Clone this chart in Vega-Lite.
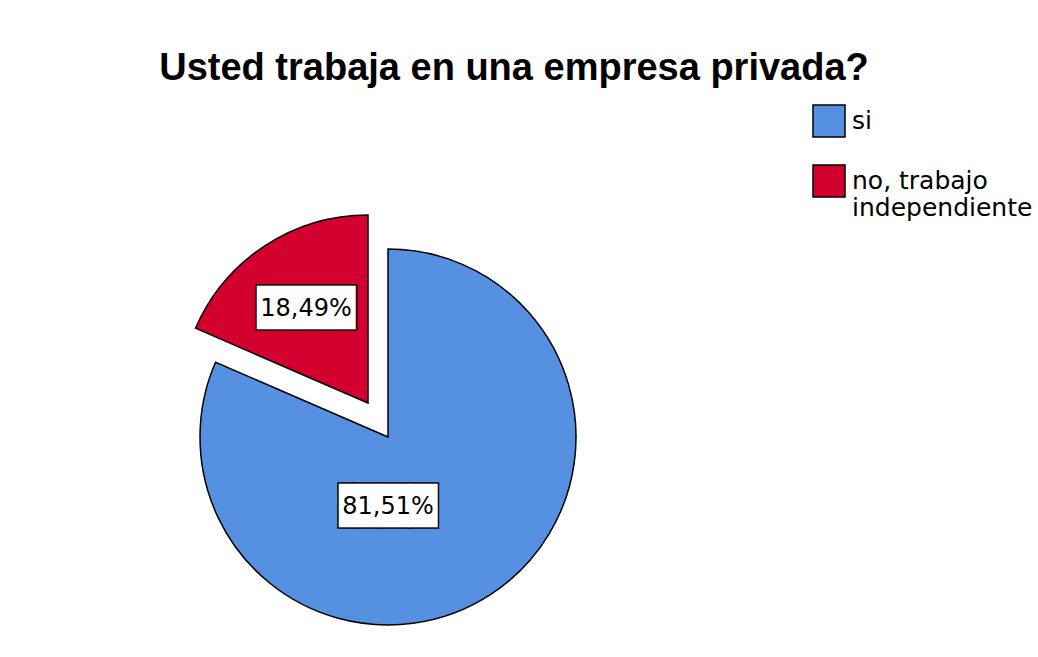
{
  "$schema": "https://vega.github.io/schema/vega-lite/v6.json",
  "width": 376,
  "height": 376,
  "autosize": "none",
  "padding": {"left": 200, "top": 249, "right": 462, "bottom": 32},
  "background": "white",
  "config": {"view": {"stroke": null}},
  "title": {
    "text": "Usted trabaja en una empresa privada?",
    "font": "Liberation Sans",
    "fontSize": 38,
    "fontWeight": "bold",
    "color": "black",
    "anchor": "middle",
    "dx": 126,
    "dy": 38,
    "baseline": "alphabetic",
    "offset": 24
  },
  "data": {
    "values": [
      {"categoria": "si", "porcentaje": 81.51},
      {"categoria": "no, trabajo independiente", "porcentaje": 18.49}
    ]
  },
  "transform": [
    {"stack": "porcentaje", "groupby": [], "as": ["p0", "p1"], "sort": [{"field": "porcentaje", "order": "descending"}]},
    {"calculate": "(datum.p0 + datum.p1) / 2", "as": "pmid"},
    {"calculate": "replace(format(datum.porcentaje, '.2f'), '.', ',') + '%'", "as": "etiqueta"}
  ],
  "layer": [
    {
      "transform": [{"filter": "datum.categoria == 'si'"}],
      "mark": {"type": "arc", "stroke": "black", "strokeWidth": 1.5},
      "encoding": {
        "theta": {"field": "p0", "type": "quantitative", "scale": {"domain": [0, 100], "range": [0, 6.283185307179586]}},
        "theta2": {"field": "p1"},
        "color": {
          "field": "categoria", "type": "nominal",
          "scale": {"domain": ["si", "no, trabajo independiente"], "range": ["#5591E0", "#D3002F"]},
          "legend": {
            "orient": "none", "legendX": 612, "legendY": -145, "title": null,
            "symbolType": "square", "symbolSize": 1024, "symbolStrokeColor": "black", "symbolStrokeWidth": 1.5,
            "symbolOpacity": 1,
            "labelFont": "DejaVu Sans", "labelFontSize": 25, "labelColor": "black", "labelLimit": 500,
            "labelOffset": 6, "rowPadding": 22, "padding": 0,
            "labelExpr": "datum.label == 'no, trabajo independiente' ? ['no, trabajo', 'independiente'] : datum.label"
          }
        }
      }
    },
    {
      "transform": [{"filter": "datum.categoria != 'si'"}],
      "mark": {"type": "arc", "stroke": "black", "strokeWidth": 1.5, "xOffset": -20, "yOffset": -34},
      "encoding": {
        "theta": {"field": "p0", "type": "quantitative", "scale": {"domain": [0, 100], "range": [0, 6.283185307179586]}},
        "theta2": {"field": "p1"},
        "color": {
          "field": "categoria", "type": "nominal",
          "scale": {"domain": ["si", "no, trabajo independiente"], "range": ["#5591E0", "#D3002F"]},
          "legend": {
            "orient": "none", "legendX": 612, "legendY": -145, "title": null,
            "symbolType": "square", "symbolSize": 1024, "symbolStrokeColor": "black", "symbolStrokeWidth": 1.5,
            "symbolOpacity": 1,
            "labelFont": "DejaVu Sans", "labelFontSize": 25, "labelColor": "black", "labelLimit": 500,
            "labelOffset": 6, "rowPadding": 22, "padding": 0,
            "labelExpr": "datum.label == 'no, trabajo independiente' ? ['no, trabajo', 'independiente'] : datum.label"
          }
        }
      }
    },
    {
      "transform": [{"filter": "datum.categoria == 'si'"}],
      "mark": {"type": "text", "text": "▐███", "font": "DejaVu Sans", "fontSize": 36.5, "fill": "white", "stroke": "black", "strokeWidth": 3, "align": "center", "baseline": "middle", "dx": -7},
      "encoding": {"theta": {"datum": 50}, "radius": {"value": 70}}
    },
    {
      "transform": [{"filter": "datum.categoria == 'si'"}],
      "mark": {"type": "text", "text": "▐███", "font": "DejaVu Sans", "fontSize": 36.5, "fill": "white", "align": "center", "baseline": "middle", "dx": -7},
      "encoding": {"theta": {"datum": 50}, "radius": {"value": 70}}
    },
    {
      "transform": [{"filter": "datum.categoria == 'si'"}],
      "mark": {"type": "text", "font": "DejaVu Sans", "fontSize": 24, "fill": "black", "align": "center", "baseline": "middle"},
      "encoding": {"theta": {"datum": 50}, "radius": {"value": 70}, "text": {"field": "etiqueta"}}
    },
    {
      "transform": [{"filter": "datum.categoria != 'si'"}],
      "mark": {"type": "text", "text": "▐███", "font": "DejaVu Sans", "fontSize": 36.5, "fill": "white", "stroke": "black", "strokeWidth": 3, "align": "center", "baseline": "middle", "dx": -7, "xOffset": -20, "yOffset": -34},
      "encoding": {"theta": {"field": "pmid", "type": "quantitative"}, "radius": {"value": 113}}
    },
    {
      "transform": [{"filter": "datum.categoria != 'si'"}],
      "mark": {"type": "text", "text": "▐███", "font": "DejaVu Sans", "fontSize": 36.5, "fill": "white", "align": "center", "baseline": "middle", "dx": -7, "xOffset": -20, "yOffset": -34},
      "encoding": {"theta": {"field": "pmid", "type": "quantitative"}, "radius": {"value": 113}}
    },
    {
      "transform": [{"filter": "datum.categoria != 'si'"}],
      "mark": {"type": "text", "font": "DejaVu Sans", "fontSize": 24, "fill": "black", "align": "center", "baseline": "middle", "xOffset": -20, "yOffset": -34},
      "encoding": {"theta": {"field": "pmid", "type": "quantitative"}, "radius": {"value": 113}, "text": {"field": "etiqueta"}}
    }
  ]
}
